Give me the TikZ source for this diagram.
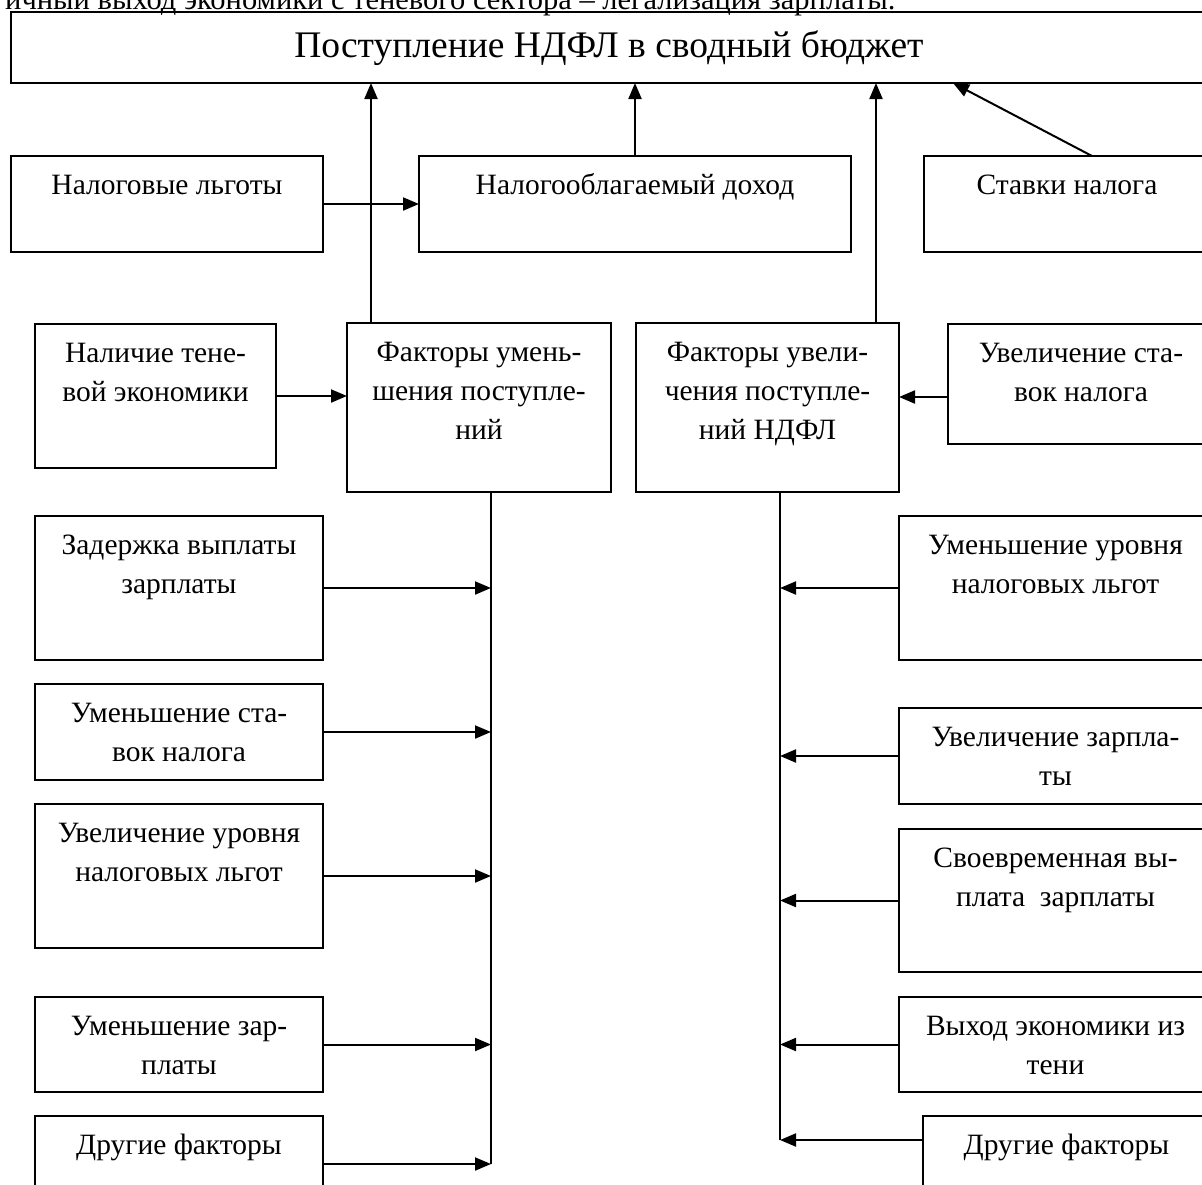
\documentclass[tikz,border=0pt]{standalone}
\usepackage{fontspec}
\setmainfont{Liberation Serif}
\usetikzlibrary{arrows.meta,calc}

\tikzset{
  blkbox/.style={draw, line width=2pt, rectangle, inner sep=0pt, outer sep=0pt},
  txt/.style={align=center, inner sep=0pt, font=\fontsize{29.5}{39}\selectfont},
  ttl/.style={align=center, inner sep=0pt, font=\fontsize{37.5}{44}\selectfont},
  ln/.style={line width=2pt},
  arr/.style={line width=2pt, -{Triangle[length=16pt,width=13pt]}},
}

% #1 name, #2 x1, #3 y1, #4 x2, #5 y2, #6 text (top-aligned, centred)
\newcommand{\blk}[6]{%
  \node[blkbox, anchor=north west,
        minimum width={(#4-#2)*1pt}, minimum height={(#5-#3)*1pt}] (#1) at (#2,#3) {};
  \node[txt, anchor=north] (#1-t) at ([yshift=-10.7pt]#1.north) {\strut #6};
}

\begin{document}
\begin{tikzpicture}[x=1pt,y=-1pt]
  \useasboundingbox (0,0) rectangle (1202,1184);
  \fill[white] (0,0) rectangle (1202,1184);
  \clip (0,0) rectangle (1202,1184);

  % line of running text above the chart
  \node[txt, anchor=base west, font=\fontsize{30.5}{39}\selectfont] (cap) at (5,9) {ичный выход экономики с теневого сектора – легализация зарплаты.};

  % main box
  \node[blkbox, anchor=north west, minimum width=1196pt, minimum height=71pt] (top) at (11,12) {};
  \node[ttl, anchor=north] (top-t) at ([yshift=-14.2pt]top.north) {\strut Поступление НДФЛ в сводный бюджет};

  % second row
  \blk{nl}{11}{156}{323}{252}{Налоговые льготы}
  \blk{nd}{419}{156}{851}{252}{Налогооблагаемый доход}
  \blk{st}{924}{156}{1210}{252}{Ставки налога}

  % third row
  \blk{nt}{35}{324}{276}{468}{Наличие тене-\\вой экономики}
  \blk{fu}{347}{323}{611}{492}{Факторы умень-\\шения поступле-\\ний}
  \blk{fv}{636}{323}{899}{492}{Факторы увели-\\чения поступле-\\ний НДФЛ}
  \blk{us}{948}{324}{1214}{444}{Увеличение ста-\\вок налога}

  % factors that lower the revenue
  \blk{zd}{35}{516}{323}{660}{Задержка выплаты\\зарплаты}
  \blk{ms}{35}{684}{323}{780}{Уменьшение ста-\\вок налога}
  \blk{ul}{35}{804}{323}{948}{Увеличение уровня\\налоговых льгот}
  \blk{mz}{35}{997}{323}{1092}{Уменьшение зар-\\платы}
  \blk{dl}{35}{1116}{323}{1212}{Другие факторы}

  % factors that raise the revenue
  \blk{ml}{899}{516}{1212}{660}{Уменьшение уровня\\налоговых льгот}
  \blk{uz}{899}{708}{1212}{804}{Увеличение зарпла-\\ты}
  \blk{sv}{899}{829}{1212}{972}{Своевременная вы-\\плата~ зарплаты}
  \blk{vy}{899}{997}{1212}{1092}{Выход экономики из\\тени}
  \blk{dr}{923}{1116}{1210}{1212}{Другие факторы}

  % arrows into the main box
  \draw[arr] ([xshift=24pt]fu.north west) -- ([xshift=24pt]fu.north west |- top.south);
  \draw[arr] (nd.north) -- (nd.north |- top.south);
  \draw[arr] ([xshift=-23pt]fv.north east) -- ([xshift=-23pt]fv.north east |- top.south);
  \draw[arr] ([xshift=168pt]st.north west) -- ([xshift=942pt]top.south west);

  % horizontal links
  \draw[arr] (nl.east) -- (nd.west);
  \draw[arr] (nt.east) -- (nt.east -| fu.west);
  \draw[arr] ([yshift=-13pt]us.west) -- ([yshift=-13pt]us.west -| fv.east);

  % collecting lines
  \coordinate (lt) at ([xshift=144pt]fu.south west);
  \coordinate (rt) at ([xshift=144pt]fv.south west);
  \coordinate (drin) at ([yshift=-24pt]dr.north west);
  \draw[ln] (lt) -- (lt |- dl.east);
  \draw[ln] (rt) -- (rt |- drin);

  \foreach \n in {zd,ms,ul,mz,dl} \draw[arr] (\n.east) -- (\n.east -| lt);
  \foreach \n in {ml,uz,sv,vy} \draw[arr] (\n.west) -- (\n.west -| rt);
  \draw[arr] (drin) -- (drin -| rt);
\end{tikzpicture}
\end{document}
